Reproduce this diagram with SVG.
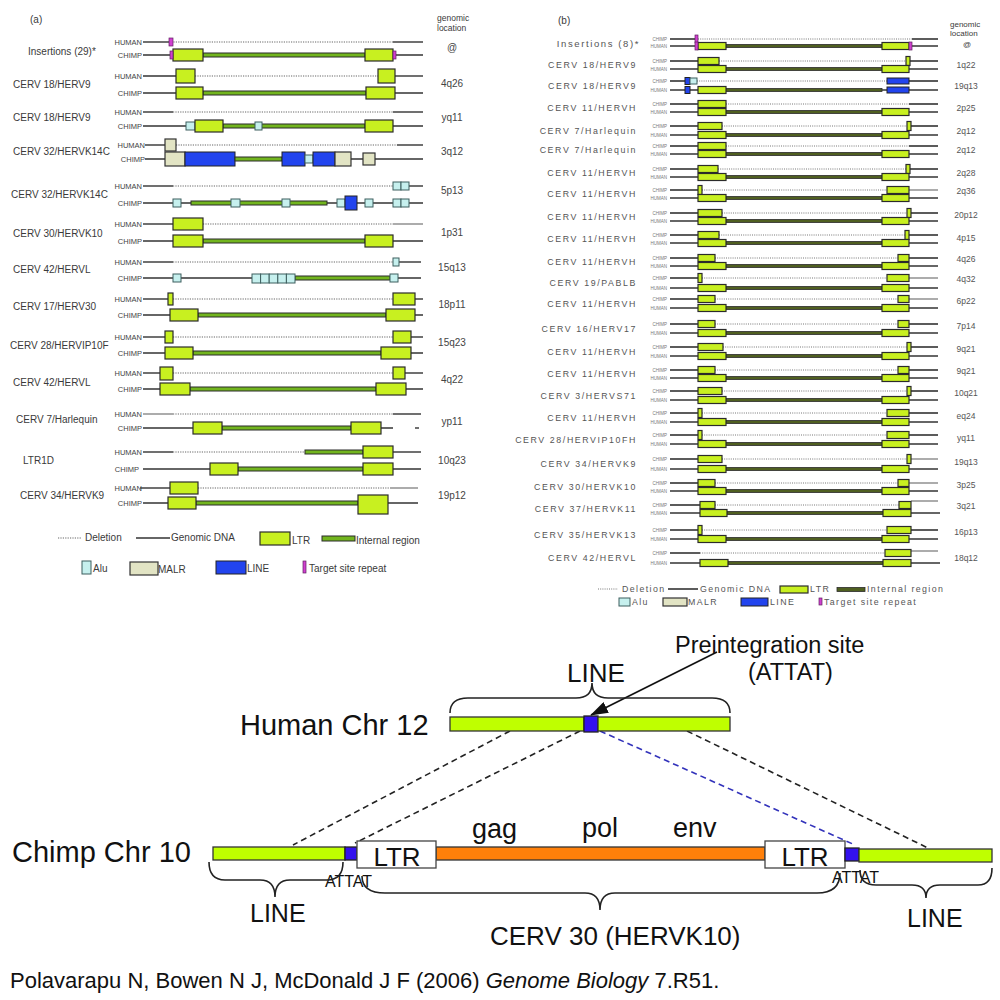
<svg xmlns="http://www.w3.org/2000/svg" xmlns:xlink="http://www.w3.org/1999/xlink" width="1000" height="1000" viewBox="0 0 1000 1000">
<style>
text{font-family:"Liberation Sans",Arial,sans-serif}
.s{stroke:#333;stroke-width:1.4}
.sg{stroke:#888;stroke-width:1.4}
.d{stroke:#666;stroke-width:1.2;stroke-dasharray:1.2 1.2}
.L{fill:#c8f020;stroke:#2b2b2b;stroke-width:1.2}
.I{fill:#72b51e;stroke:#2b2b2b;stroke-width:1}
.A{fill:#c6f0ee;stroke:#3d5e5e;stroke-width:1}
.M{fill:#e2e4c4;stroke:#333;stroke-width:1.2}
.N{fill:#2244ee;stroke:#222;stroke-width:1}
.T{fill:#d040d0;stroke:#602060;stroke-width:0.7}
.s2{stroke:#333;stroke-width:1.6}
.d2{stroke:#777;stroke-width:1;stroke-dasharray:1 1.2}
.Lb{fill:#c8f020;stroke:#2b2b2b;stroke-width:1.2}
.Ib{fill:#4f5f20;stroke:#2b2b2b;stroke-width:0.8}
.la{font-size:10px;fill:#3a3a3a}
.hc{font-size:7.5px;fill:#444;text-anchor:end}
.loc{font-size:10px;fill:#444;text-anchor:middle}
.lb{font-size:8.8px;fill:#555;letter-spacing:1.6px;text-anchor:end}
.lg{font-size:8.8px;fill:#555;letter-spacing:1.4px}
.tiny{font-size:4.5px;fill:#777;text-anchor:end}
.locb{font-size:8.5px;fill:#555;text-anchor:middle}
.bt{fill:#111}
.gb{fill:#bfff00;stroke:#333;stroke-width:1.3}
.bl{fill:#3311ee;stroke:#222;stroke-width:1.3}
.lt{fill:#fff;stroke:#444;stroke-width:1.3}
.or{fill:#ff800a;stroke:#333;stroke-width:1.3}
.dk{stroke:#222;stroke-width:1.6;stroke-dasharray:6 4;fill:none}
.db{stroke:#3333bb;stroke-width:1.6;stroke-dasharray:6 4;fill:none}
.br{fill:none;stroke:#222;stroke-width:1.6}
</style>
<defs>
<g id="hstd">
<line class="s2" x1="670" x2="938"/>
<rect class="Ib" x="726" y="-1.5" width="156" height="3"/>
<rect class="Lb" x="698" y="-3.5" width="28" height="7"/>
<rect class="Lb" x="882" y="-3.5" width="27" height="7"/>
</g>
<marker id="ah" markerUnits="userSpaceOnUse" markerWidth="18" markerHeight="12" refX="17" refY="6" orient="auto">
<path d="M0,0 L18,6 L0,12 Z" fill="#111"/>
</marker>
</defs>
<rect width="1000" height="1000" fill="#fff"/>

<!-- Panel (a) -->
<g id="panel-a">
<text class="la" x="30" y="23">(a)</text>
<text class="la" x="437" y="21" style="font-size:8.5px">genomic</text>
<text class="la" x="437" y="31" style="font-size:8.5px">location</text>

<g id="a01">
<text class="la" x="28" y="55">Insertions (29)*</text>
<text class="hc" x="142" y="45">HUMAN</text><text class="hc" x="142" y="58">CHIMP</text>
<line class="s" x1="143" y1="42" x2="171" y2="42"/><line class="d" x1="171" y1="42" x2="393" y2="42"/><line class="s" x1="393" y1="42" x2="423" y2="42"/>
<rect class="T" x="169" y="38" width="4" height="8"/>
<line class="s" x1="143" y1="55" x2="423" y2="55"/>
<rect class="I" x="203" y="53" width="162" height="4"/>
<rect class="L" x="173" y="49" width="30" height="12"/><rect class="L" x="365" y="49" width="28" height="12"/>
<rect class="T" x="170" y="51" width="3" height="8"/><rect class="T" x="393" y="51" width="3" height="8"/>
<text class="loc" x="452" y="51">@</text>
</g>

<g id="a02">
<text class="la" x="13" y="88">CERV 18/HERV9</text>
<text class="hc" x="142" y="79">HUMAN</text><text class="hc" x="142" y="96">CHIMP</text>
<line class="s" x1="143" y1="76" x2="176" y2="76"/><line class="d" x1="195" y1="76" x2="378" y2="76"/><line class="s" x1="395" y1="76" x2="423" y2="76"/>
<rect class="L" x="176" y="69" width="19" height="14"/><rect class="L" x="378" y="69" width="17" height="14"/>
<line class="s" x1="143" y1="93" x2="423" y2="93"/>
<rect class="I" x="203" y="91" width="163" height="4"/>
<rect class="L" x="176" y="87" width="27" height="12"/><rect class="L" x="366" y="87" width="29" height="12"/>
<text class="loc" x="452" y="87">4q26</text>
</g>

<g id="a03">
<text class="la" x="13" y="121">CERV 18/HERV9</text>
<text class="hc" x="142" y="115">HUMAN</text><text class="hc" x="142" y="129">CHIMP</text>
<line class="s" x1="143" y1="112" x2="173" y2="112"/><line class="d" x1="173" y1="112" x2="393" y2="112"/><line class="s" x1="393" y1="112" x2="423" y2="112"/>
<line class="s" x1="143" y1="126" x2="423" y2="126"/>
<rect class="I" x="223" y="124" width="142" height="4"/>
<rect class="A" x="186" y="122" width="9" height="8"/>
<rect class="L" x="195" y="120" width="28" height="12"/>
<rect class="A" x="255" y="122" width="7" height="8"/>
<rect class="L" x="365" y="120" width="28" height="12"/>
<text class="loc" x="452" y="121">yq11</text>
</g>

<g id="a04">
<text class="la" x="13" y="155">CERV 32/HERVK14C</text>
<text class="hc" x="145" y="148">HUMAN</text><text class="hc" x="145" y="162">CHIMP</text>
<line class="s" x1="145" y1="145" x2="165" y2="145"/><line class="d" x1="176" y1="145" x2="397" y2="145"/><line class="s" x1="397" y1="145" x2="423" y2="145"/>
<rect class="M" x="165" y="139" width="11" height="12"/>
<line class="s" x1="145" y1="159" x2="423" y2="159"/>
<rect class="M" x="165" y="152" width="20" height="14"/>
<rect class="N" x="185" y="152" width="50" height="14"/>
<rect class="I" x="235" y="157" width="47" height="4"/>
<rect class="N" x="282" y="152" width="23" height="14"/>
<rect class="A" x="305" y="155" width="8" height="8"/>
<rect class="N" x="313" y="152" width="22" height="14"/>
<rect class="M" x="335" y="152" width="16" height="14"/>
<rect class="M" x="363" y="153" width="12" height="12"/>
<text class="loc" x="452" y="155">3q12</text>
</g>

<g id="a05">
<text class="la" x="11" y="198">CERV 32/HERVK14C</text>
<text class="hc" x="142" y="189">HUMAN</text><text class="hc" x="142" y="206">CHIMP</text>
<line class="s" x1="143" y1="186" x2="173" y2="186"/><line class="d" x1="173" y1="186" x2="393" y2="186"/><line class="s" x1="409" y1="186" x2="423" y2="186"/>
<rect class="A" x="393" y="182" width="8" height="8"/><rect class="A" x="401" y="182" width="8" height="8"/>
<line class="s" x1="143" y1="203" x2="423" y2="203"/>
<rect class="A" x="173" y="199" width="8" height="8"/>
<rect class="I" x="191" y="201" width="136" height="4"/>
<rect class="A" x="231" y="199" width="9" height="8"/>
<rect class="A" x="282" y="199" width="8" height="8"/>
<rect class="A" x="337" y="199" width="8" height="8"/>
<rect class="N" x="345" y="196" width="12" height="14"/>
<rect class="A" x="365" y="199" width="8" height="8"/>
<rect class="A" x="393" y="199" width="8" height="8"/><rect class="A" x="401" y="199" width="8" height="8"/>
<text class="loc" x="452" y="194">5p13</text>
</g>

<g id="a06">
<text class="la" x="13" y="237">CERV 30/HERVK10</text>
<text class="hc" x="142" y="227">HUMAN</text><text class="hc" x="142" y="244">CHIMP</text>
<line class="s" x1="143" y1="224" x2="173" y2="224"/><line class="d" x1="203" y1="224" x2="393" y2="224"/><line class="sg" x1="393" y1="224" x2="423" y2="224"/>
<rect class="L" x="173" y="218" width="30" height="12"/>
<line class="s" x1="143" y1="241" x2="423" y2="241"/>
<rect class="I" x="203" y="239" width="162" height="4"/>
<rect class="L" x="173" y="235" width="30" height="12"/><rect class="L" x="365" y="235" width="28" height="12"/>
<text class="loc" x="452" y="236">1p31</text>
</g>

<g id="a07">
<text class="la" x="13" y="273">CERV 42/HERVL</text>
<text class="hc" x="142" y="265">HUMAN</text><text class="hc" x="142" y="281">CHIMP</text>
<line class="s" x1="143" y1="262" x2="173" y2="262"/><line class="d" x1="173" y1="262" x2="393" y2="262"/><line class="s" x1="399" y1="262" x2="421" y2="262"/>
<rect class="A" x="393" y="258" width="6" height="8"/>
<line class="s" x1="143" y1="278" x2="421" y2="278"/>
<rect class="A" x="173" y="274" width="8" height="8"/>
<rect class="I" x="295" y="276" width="95" height="4"/>
<rect class="A" x="252" y="274" width="8.6" height="9"/><rect class="A" x="260.6" y="274" width="8.6" height="9"/><rect class="A" x="269.2" y="274" width="8.6" height="9"/><rect class="A" x="277.8" y="274" width="8.6" height="9"/><rect class="A" x="286.4" y="274" width="8.6" height="9"/>
<rect class="A" x="390" y="274" width="8" height="8"/>
<text class="loc" x="452" y="271">15q13</text>
</g>

<g id="a08">
<text class="la" x="13" y="310">CERV 17/HERV30</text>
<text class="hc" x="142" y="302">HUMAN</text><text class="hc" x="142" y="318">CHIMP</text>
<line class="s" x1="143" y1="299" x2="168" y2="299"/><line class="d" x1="173" y1="299" x2="393" y2="299"/><line class="s" x1="415" y1="299" x2="423" y2="299"/>
<rect class="L" x="168" y="293" width="5" height="12"/><rect class="L" x="393" y="293" width="22" height="12"/>
<line class="s" x1="143" y1="315" x2="423" y2="315"/>
<rect class="I" x="198" y="313" width="188" height="4"/>
<rect class="L" x="170" y="309" width="28" height="12"/><rect class="L" x="386" y="309" width="29" height="12"/>
<text class="loc" x="452" y="308">18p11</text>
</g>

<g id="a09">
<text class="la" x="10" y="349">CERV 28/HERVIP10F</text>
<text class="hc" x="142" y="340">HUMAN</text><text class="hc" x="142" y="356">CHIMP</text>
<line class="s" x1="143" y1="337" x2="165" y2="337"/><line class="d" x1="173" y1="337" x2="393" y2="337"/><line class="s" x1="411" y1="337" x2="423" y2="337"/>
<rect class="L" x="165" y="331" width="8" height="12"/><rect class="L" x="393" y="331" width="18" height="12"/>
<line class="s" x1="143" y1="353" x2="423" y2="353"/>
<rect class="I" x="193" y="351" width="188" height="4"/>
<rect class="L" x="165" y="347" width="28" height="12"/><rect class="L" x="381" y="347" width="30" height="12"/>
<text class="loc" x="452" y="346">15q23</text>
</g>

<g id="a10">
<text class="la" x="13" y="386">CERV 42/HERVL</text>
<text class="hc" x="142" y="376">HUMAN</text><text class="hc" x="142" y="392">CHIMP</text>
<line class="s" x1="143" y1="373" x2="160" y2="373"/><line class="d" x1="173" y1="373" x2="393" y2="373"/><line class="s" x1="405" y1="373" x2="423" y2="373"/>
<rect class="L" x="160" y="367" width="13" height="13"/><rect class="L" x="393" y="367" width="12" height="12"/>
<line class="s" x1="143" y1="389" x2="423" y2="389"/>
<rect class="I" x="190" y="387" width="186" height="4"/>
<rect class="L" x="160" y="383" width="30" height="12"/><rect class="L" x="376" y="383" width="30" height="12"/>
<text class="loc" x="452" y="383">4q22</text>
</g>

<g id="a11">
<text class="la" x="16" y="423">CERV 7/Harlequin</text>
<text class="hc" x="142" y="417">HUMAN</text><text class="hc" x="142" y="431">CHIMP</text>
<line class="sg" x1="143" y1="414" x2="173" y2="414"/><line class="d" x1="173" y1="414" x2="393" y2="414"/><line class="s" x1="393" y1="414" x2="421" y2="414"/>
<line class="s" x1="143" y1="428" x2="393" y2="428"/><line class="s" x1="415" y1="428" x2="419" y2="428"/>
<rect class="I" x="222" y="426" width="129" height="4"/>
<rect class="L" x="193" y="422" width="29" height="12"/><rect class="L" x="351" y="422" width="30" height="12"/>
<text class="loc" x="452" y="425">yp11</text>
</g>

<g id="a12">
<text class="la" x="23" y="464">LTR1D</text>
<text class="hc" x="142" y="455">HUMAN</text><text class="hc" x="139" y="472">CHIMP</text>
<line class="s" x1="143" y1="452" x2="173" y2="452"/><line class="d" x1="173" y1="452" x2="305" y2="452"/><line class="s" x1="393" y1="452" x2="421" y2="452"/>
<rect class="I" x="305" y="450" width="58" height="4"/>
<rect class="L" x="363" y="446" width="30" height="12"/>
<line class="s" x1="143" y1="469" x2="421" y2="469"/>
<rect class="I" x="238" y="467" width="125" height="4"/>
<rect class="L" x="210" y="463" width="28" height="12"/><rect class="L" x="363" y="463" width="30" height="12"/>
<text class="loc" x="452" y="464">10q23</text>
</g>

<g id="a13">
<text class="la" x="20" y="499">CERV 34/HERVK9</text>
<text class="hc" x="142" y="491">HUMAN</text><text class="hc" x="142" y="506">CHIMP</text>
<line class="s" x1="140" y1="488" x2="170" y2="488"/><line class="d" x1="198" y1="488" x2="390" y2="488"/><line class="sg" x1="390" y1="488" x2="418" y2="488"/>
<rect class="L" x="170" y="482" width="28" height="12"/>
<line class="s" x1="143" y1="503" x2="418" y2="503"/>
<rect class="I" x="196" y="501" width="162" height="4"/>
<rect class="L" x="168" y="497" width="28" height="12"/><rect class="L" x="358" y="495" width="30" height="19"/>
<text class="loc" x="452" y="499">19p12</text>
</g>

<g id="a-legend">
<line class="d" x1="58" y1="538" x2="82" y2="538"/><text class="la" x="85" y="541">Deletion</text>
<line class="s" x1="136" y1="538" x2="170" y2="538"/><text class="la" x="171" y="541">Genomic DNA</text>
<rect class="L" x="260" y="532" width="30" height="13"/><text class="la" x="292" y="544">LTR</text>
<rect class="I" x="322" y="536" width="33" height="5"/><text class="la" x="356" y="544">Internal region</text>
<rect class="A" x="82" y="561" width="9" height="13"/><text class="la" x="93" y="572">Alu</text>
<rect class="M" x="130" y="562" width="28" height="13"/><text class="la" x="158" y="573">MALR</text>
<rect class="N" x="216" y="561" width="30" height="13"/><text class="la" x="247" y="572">LINE</text>
<rect class="T" x="303" y="561" width="3" height="12"/><text class="la" x="309" y="572">Target site repeat</text>
</g>
</g>

<!-- Panel (b) -->
<g id="panel-b">
<text class="la" x="558" y="24">(b)</text>
<text class="la" x="950" y="27" style="font-size:8px">genomic</text>
<text class="la" x="950" y="36" style="font-size:8px">location</text>
<text class="la" x="967" y="47" style="font-size:8px;text-anchor:middle">@</text>

<g id="b01" transform="translate(0,39)">
<text class="lb" x="640" y="8" style="font-size:9.5px">Insertions (8)*</text>
<text class="tiny" x="667" y="1.5">CHIMP</text><text class="tiny" x="667" y="8.5">HUMAN</text>
<line class="s2" x1="670" x2="695"/><line class="d2" x1="698" x2="912"/><line class="s2" x1="912" x2="938"/>
<rect class="T" x="695" y="-4" width="3" height="8"/>
<line class="s2" x1="670" x2="938" y1="7" y2="7"/>
<rect class="Ib" x="726" y="5.5" width="156" height="3"/>
<rect class="Lb" x="698" y="3.5" width="28" height="7"/><rect class="Lb" x="882" y="3.5" width="27" height="7"/>
<rect class="T" x="695" y="3" width="3" height="8"/><rect class="T" x="909" y="3" width="3" height="8"/>
</g>

<g id="b02" transform="translate(0,61)">
<text class="lb" x="637" y="7">CERV 18/HERV9</text>
<text class="tiny" x="667" y="1.5">CHIMP</text><text class="tiny" x="667" y="9.5">HUMAN</text>
<line class="s2" x1="670" x2="698"/><line class="d2" x1="719" x2="906"/><line class="s2" x1="910" x2="938"/>
<rect class="Lb" x="698" y="-3.5" width="21" height="7"/><rect class="Lb" x="906" y="-4.5" width="4" height="9"/>
<use xlink:href="#hstd" y="8"/>
<text class="locb" x="966" y="7">1q22</text>
</g>

<g id="b03" transform="translate(0,81)">
<text class="lb" x="637" y="7.5">CERV 18/HERV9</text>
<text class="tiny" x="667" y="1.5">CHIMP</text><text class="tiny" x="667" y="10.5">HUMAN</text>
<line class="s2" x1="670" x2="686"/><line class="d2" x1="697" x2="887"/><line class="s2" x1="909" x2="938"/>
<rect class="N" x="685" y="-3.5" width="5" height="7"/><rect class="A" x="690" y="-3" width="7" height="6"/>
<rect class="N" x="887" y="-3" width="22" height="6"/>
<line class="s2" x1="670" x2="938" y1="9" y2="9"/>
<rect class="Ib" x="726" y="7.5" width="156" height="3"/>
<rect class="N" x="685" y="5.5" width="5" height="7"/>
<rect class="Lb" x="698" y="5.5" width="28" height="7"/>
<rect class="N" x="887" y="6" width="22" height="6"/>
<text class="locb" x="966" y="8">19q13</text>
</g>

<g id="b04" transform="translate(0,104)">
<text class="lb" x="637" y="7">CERV 11/HERVH</text>
<text class="tiny" x="667" y="1.5">CHIMP</text><text class="tiny" x="667" y="9.5">HUMAN</text>
<line class="s2" x1="670" x2="698"/><line class="d2" x1="726" x2="909"/><line class="s2" x1="909" x2="938"/>
<rect class="Lb" x="698" y="-3.5" width="28" height="7"/>
<use xlink:href="#hstd" y="8"/>
<text class="locb" x="966" y="7">2p25</text>
</g>

<g id="b05" transform="translate(0,126)">
<text class="lb" x="637" y="7.5">CERV 7/Harlequin</text>
<text class="tiny" x="667" y="1.5">CHIMP</text><text class="tiny" x="667" y="10.5">HUMAN</text>
<line class="s2" x1="670" x2="698"/><line class="d2" x1="722" x2="907"/><line class="s2" x1="911" x2="938"/>
<rect class="Lb" x="698" y="-3.5" width="24" height="7"/><rect class="Lb" x="907" y="-4.5" width="4" height="9"/>
<use xlink:href="#hstd" y="9"/>
<text class="locb" x="966" y="8">2q12</text>
</g>

<g id="b06" transform="translate(0,146)">
<text class="lb" x="637" y="7">CERV 7/Harlequin</text>
<text class="tiny" x="667" y="1.5">CHIMP</text><text class="tiny" x="667" y="9.5">HUMAN</text>
<line class="s2" x1="670" x2="698"/><line class="d2" x1="726" x2="909"/><line class="s2" x1="909" x2="938"/>
<rect class="Lb" x="698" y="-3.5" width="28" height="7"/>
<use xlink:href="#hstd" y="8"/>
<text class="locb" x="966" y="7">2q12</text>
</g>

<g id="b07" transform="translate(0,169)">
<text class="lb" x="637" y="7">CERV 11/HERVH</text>
<text class="tiny" x="667" y="1.5">CHIMP</text><text class="tiny" x="667" y="9.5">HUMAN</text>
<line class="s2" x1="670" x2="698"/><line class="d2" x1="718" x2="906"/><line class="s2" x1="910" x2="938"/>
<rect class="Lb" x="698" y="-3.5" width="20" height="7"/><rect class="Lb" x="906" y="-4.5" width="4" height="9"/>
<use xlink:href="#hstd" y="8"/>
<text class="locb" x="966" y="7">2q28</text>
</g>

<g id="b08" transform="translate(0,190)">
<text class="lb" x="637" y="7">CERV 11/HERVH</text>
<text class="tiny" x="667" y="1.5">CHIMP</text><text class="tiny" x="667" y="9.5">HUMAN</text>
<line class="s2" x1="670" x2="698"/><line class="d2" x1="702" x2="887"/><line class="sg" x1="909" x2="938"/>
<rect class="Lb" x="698" y="-4.5" width="4" height="9"/><rect class="Lb" x="887" y="-3.5" width="22" height="7"/>
<use xlink:href="#hstd" y="8"/>
<text class="locb" x="966" y="4">2q36</text>
</g>

<g id="b09" transform="translate(0,213)">
<text class="lb" x="637" y="7">CERV 11/HERVH</text>
<text class="tiny" x="667" y="1.5">CHIMP</text><text class="tiny" x="667" y="9.5">HUMAN</text>
<line class="s2" x1="670" x2="698"/><line class="d2" x1="722" x2="907"/><line class="s2" x1="911" x2="938"/>
<rect class="Lb" x="698" y="-3.5" width="24" height="7"/><rect class="Lb" x="907" y="-4.5" width="4" height="9"/>
<use xlink:href="#hstd" y="8"/>
<text class="locb" x="966" y="5">20p12</text>
</g>

<g id="b10" transform="translate(0,235)">
<text class="lb" x="637" y="7">CERV 11/HERVH</text>
<text class="tiny" x="667" y="1.5">CHIMP</text><text class="tiny" x="667" y="9.5">HUMAN</text>
<line class="s2" x1="670" x2="698"/><line class="d2" x1="719" x2="905"/><line class="s2" x1="909" x2="938"/>
<rect class="Lb" x="698" y="-3.5" width="21" height="7"/><rect class="Lb" x="905" y="-4.5" width="4" height="9"/>
<use xlink:href="#hstd" y="8"/>
<text class="locb" x="966" y="6">4p15</text>
</g>

<g id="b11" transform="translate(0,258)">
<text class="lb" x="637" y="7">CERV 11/HERVH</text>
<text class="tiny" x="667" y="1.5">CHIMP</text><text class="tiny" x="667" y="9.5">HUMAN</text>
<line class="s2" x1="670" x2="698"/><line class="d2" x1="715" x2="898"/><line class="s2" x1="909" x2="938"/>
<rect class="Lb" x="698" y="-3.5" width="17" height="7"/><rect class="Lb" x="898" y="-3.5" width="11" height="7"/>
<use xlink:href="#hstd" y="8"/>
<text class="locb" x="966" y="4">4q26</text>
</g>

<g id="b12" transform="translate(0,278)">
<text class="lb" x="637" y="8">CERV 19/PABLB</text>
<text class="tiny" x="667" y="1.5">CHIMP</text><text class="tiny" x="667" y="11.5">HUMAN</text>
<line class="s2" x1="670" x2="698"/><line class="d2" x1="702" x2="887"/><line class="sg" x1="909" x2="938"/>
<rect class="Lb" x="698" y="-4.5" width="4" height="9"/><rect class="Lb" x="887" y="-3.5" width="22" height="7"/>
<use xlink:href="#hstd" y="10"/>
<text class="locb" x="966" y="4">4q32</text>
</g>

<g id="b13" transform="translate(0,299)">
<text class="lb" x="637" y="7.5">CERV 11/HERVH</text>
<text class="tiny" x="667" y="1.5">CHIMP</text><text class="tiny" x="667" y="10.5">HUMAN</text>
<line class="s2" x1="670" x2="698"/><line class="d2" x1="715" x2="898"/><line class="sg" x1="909" x2="938"/>
<rect class="Lb" x="698" y="-3.5" width="17" height="7"/><rect class="Lb" x="898" y="-3.5" width="11" height="7"/>
<use xlink:href="#hstd" y="9"/>
<text class="locb" x="966" y="5">6p22</text>
</g>

<g id="b14" transform="translate(0,324)">
<text class="lb" x="637" y="7.5">CERV 16/HERV17</text>
<text class="tiny" x="667" y="1.5">CHIMP</text><text class="tiny" x="667" y="10.5">HUMAN</text>
<line class="s2" x1="670" x2="698"/><line class="d2" x1="715" x2="898"/><line class="s2" x1="909" x2="938"/>
<rect class="Lb" x="698" y="-3.5" width="17" height="7"/><rect class="Lb" x="898" y="-3.5" width="11" height="7"/>
<use xlink:href="#hstd" y="9"/>
<text class="locb" x="966" y="5">7p14</text>
</g>

<g id="b15" transform="translate(0,347)">
<text class="lb" x="637" y="7.5">CERV 11/HERVH</text>
<text class="tiny" x="667" y="1.5">CHIMP</text><text class="tiny" x="667" y="10.5">HUMAN</text>
<line class="s2" x1="670" x2="698"/><line class="d2" x1="723" x2="907"/><line class="s2" x1="911" x2="938"/>
<rect class="Lb" x="698" y="-3.5" width="25" height="7"/><rect class="Lb" x="907" y="-4.5" width="4" height="9"/>
<use xlink:href="#hstd" y="9"/>
<text class="locb" x="966" y="5">9q21</text>
</g>

<g id="b16" transform="translate(0,370)">
<text class="lb" x="637" y="7">CERV 11/HERVH</text>
<text class="tiny" x="667" y="1.5">CHIMP</text><text class="tiny" x="667" y="9.5">HUMAN</text>
<line class="s2" x1="670" x2="698"/><line class="d2" x1="715" x2="898"/><line class="s2" x1="909" x2="938"/>
<rect class="Lb" x="698" y="-3.5" width="17" height="7"/><rect class="Lb" x="898" y="-3.5" width="11" height="7"/>
<use xlink:href="#hstd" y="8"/>
<text class="locb" x="966" y="4">9q21</text>
</g>

<g id="b17" transform="translate(0,391)">
<text class="lb" x="637" y="7.5">CERV 3/HERVS71</text>
<text class="tiny" x="667" y="1.5">CHIMP</text><text class="tiny" x="667" y="10.5">HUMAN</text>
<line class="s2" x1="670" x2="698"/><line class="d2" x1="722" x2="907"/><line class="s2" x1="911" x2="938"/>
<rect class="Lb" x="698" y="-3.5" width="24" height="7"/><rect class="Lb" x="907" y="-4.5" width="4" height="9"/>
<use xlink:href="#hstd" y="9"/>
<text class="locb" x="966" y="5">10q21</text>
</g>

<g id="b18" transform="translate(0,413)">
<text class="lb" x="637" y="7.5">CERV 11/HERVH</text>
<text class="tiny" x="667" y="1.5">CHIMP</text><text class="tiny" x="667" y="10.5">HUMAN</text>
<line class="s2" x1="670" x2="698"/><line class="d2" x1="702" x2="887"/><line class="s2" x1="909" x2="938"/>
<rect class="Lb" x="698" y="-4.5" width="4" height="9"/><rect class="Lb" x="887" y="-3.5" width="22" height="7"/>
<use xlink:href="#hstd" y="9"/>
<text class="locb" x="966" y="6">eq24</text>
</g>

<g id="b19" transform="translate(0,435)">
<text class="lb" x="637" y="7.5">CERV 28/HERVIP10FH</text>
<text class="tiny" x="667" y="1.5">CHIMP</text><text class="tiny" x="667" y="10.5">HUMAN</text>
<line class="s2" x1="670" x2="698"/><line class="d2" x1="702" x2="887"/><line class="s2" x1="909" x2="938"/>
<rect class="Lb" x="698" y="-4.5" width="4" height="9"/><rect class="Lb" x="887" y="-3.5" width="22" height="7"/>
<use xlink:href="#hstd" y="9"/>
<text class="locb" x="966" y="6">yq11</text>
</g>

<g id="b20" transform="translate(0,459)">
<text class="lb" x="637" y="8">CERV 34/HERVK9</text>
<text class="tiny" x="667" y="1.5">CHIMP</text><text class="tiny" x="667" y="11.5">HUMAN</text>
<line class="s2" x1="670" x2="698"/><line class="d2" x1="722" x2="908"/><line class="sg" x1="911" x2="938"/>
<rect class="Lb" x="698" y="-3.5" width="24" height="7"/><rect class="Lb" x="907" y="-4.5" width="4" height="9"/>
<use xlink:href="#hstd" y="10"/>
<text class="locb" x="966" y="6">19q13</text>
</g>

<g id="b21" transform="translate(0,483)">
<text class="lb" x="637" y="7">CERV 30/HERVK10</text>
<text class="tiny" x="667" y="1.5">CHIMP</text><text class="tiny" x="667" y="9.5">HUMAN</text>
<line class="s2" x1="670" x2="698"/><line class="d2" x1="715" x2="898"/><line class="sg" x1="909" x2="938"/>
<rect class="Lb" x="698" y="-3.5" width="17" height="7"/><rect class="Lb" x="898" y="-3.5" width="11" height="7"/>
<use xlink:href="#hstd" y="8"/>
<text class="locb" x="966" y="5">3p25</text>
</g>

<g id="b22" transform="translate(0,505)">
<text class="lb" x="637" y="7">CERV 37/HERVK11</text>
<text class="tiny" x="667" y="1.5">CHIMP</text><text class="tiny" x="667" y="9.5">HUMAN</text>
<line class="s2" x1="670" x2="700"/><line class="d2" x1="715" x2="899"/><line class="sg" x1="911" x2="938" y1="-4" y2="-4"/>
<rect class="Lb" x="700" y="-3.5" width="15" height="7"/><rect class="Lb" x="899" y="-3.5" width="12" height="7"/>
<line class="s2" x1="670" x2="940" y1="8" y2="8"/>
<rect class="Ib" x="727" y="6.5" width="156" height="3"/>
<rect class="Lb" x="700" y="4.5" width="27" height="7"/><rect class="Lb" x="883" y="4.5" width="28" height="7"/>
<text class="locb" x="966" y="4">3q21</text>
</g>

<g id="b23" transform="translate(0,530)">
<text class="lb" x="637" y="7.5">CERV 35/HERVK13</text>
<text class="tiny" x="667" y="1.5">CHIMP</text><text class="tiny" x="667" y="10.5">HUMAN</text>
<line class="s2" x1="670" x2="698"/><line class="d2" x1="702" x2="887"/><line class="s2" x1="911" x2="938"/>
<rect class="Lb" x="698" y="-4.5" width="4" height="9"/><rect class="Lb" x="887" y="-3.5" width="24" height="7"/>
<use xlink:href="#hstd" y="9"/>
<text class="locb" x="966" y="5">16p13</text>
</g>

<g id="b24" transform="translate(0,553)">
<text class="lb" x="637" y="8">CERV 42/HERVL</text>
<text class="tiny" x="667" y="1.5">CHIMP</text><text class="tiny" x="667" y="11.5">HUMAN</text>
<line class="s2" x1="670" x2="700"/><line class="d2" x1="700" x2="885"/><line class="sg" x1="911" x2="938" y1="-2" y2="-2"/>
<rect class="Lb" x="885" y="-3.5" width="26" height="7"/>
<line class="s2" x1="670" x2="940" y1="10" y2="10"/>
<rect class="Ib" x="728" y="8.5" width="155" height="3"/>
<rect class="Lb" x="700" y="6.5" width="28" height="7"/><rect class="Lb" x="883" y="6.5" width="28" height="7"/>
<text class="locb" x="966" y="8">18q12</text>
</g>

<g id="b-legend">
<line class="d2" x1="598" y1="589" x2="618" y2="589"/><text class="lg" x="622" y="592">Deletion</text>
<line class="s2" x1="668" y1="589" x2="698" y2="589"/><text class="lg" x="700" y="592">Genomic DNA</text>
<rect class="Lb" x="780" y="586" width="28" height="7"/><text class="lg" x="810" y="592">LTR</text>
<rect class="Ib" x="837" y="587.5" width="28" height="4"/><text class="lg" x="867" y="592">Internal region</text>
<rect class="A" x="619" y="598" width="11" height="8"/><text class="lg" x="632" y="605">Alu</text>
<rect class="M" x="663" y="598" width="24" height="8"/><text class="lg" x="688" y="605">MALR</text>
<rect class="N" x="741" y="598" width="27" height="8"/><text class="lg" x="770" y="605">LINE</text>
<rect class="T" x="819" y="598" width="3" height="7"/><text class="lg" x="824" y="605">Target site repeat</text>
</g>
</g>

<!-- Bottom diagram -->
<g id="connectors">
<line class="dk" x1="510" y1="731" x2="293" y2="845"/>
<line class="dk" x1="580" y1="731" x2="355" y2="843"/>
<line class="db" x1="600" y1="731" x2="855" y2="845"/>
<line class="dk" x1="687" y1="731" x2="928" y2="848"/>
<line x1="717" y1="652" x2="591" y2="715" stroke="#111" stroke-width="1.6" marker-end="url(#ah)"/>
</g>

<g id="human-chr12">
<text class="bt" x="240" y="735" font-size="29">Human Chr 12</text>
<rect class="gb" x="450" y="717" width="134" height="14"/>
<rect class="bl" x="584" y="716" width="14" height="16"/>
<rect class="gb" x="598" y="717" width="132" height="14"/>
<path class="br" d="M450,713 Q450,698 468,698 L576,698 Q592,698 592,683 Q592,698 608,698 L712,698 Q730,698 730,713"/>
<text class="bt" x="567" y="682" font-size="26">LINE</text>
<text class="bt" x="675" y="653" font-size="23.5">Preintegration site</text>
<text class="bt" x="748" y="680" font-size="23.5">(ATTAT)</text>
</g>

<g id="chimp-chr10">
<text class="bt" x="12" y="862" font-size="29">Chimp Chr 10</text>
<rect class="gb" x="213" y="847" width="132" height="13"/>
<rect class="bl" x="345" y="847" width="12" height="13"/>
<rect class="or" x="436" y="847" width="329" height="13"/>
<rect class="lt" x="357" y="841" width="79" height="27"/>
<rect class="lt" x="765" y="841" width="80" height="27"/>
<rect class="bl" x="845" y="848" width="14" height="13"/>
<rect class="gb" x="859" y="849" width="133" height="13"/>
<text class="bt" x="397" y="866" font-size="26" text-anchor="middle">LTR</text>
<text class="bt" x="805" y="866" font-size="26" text-anchor="middle">LTR</text>
<text class="bt" x="472" y="838" font-size="27">gag</text>
<text class="bt" x="582" y="837" font-size="27">pol</text>
<text class="bt" x="673" y="837" font-size="27">env</text>
<text class="bt" x="325" y="887" font-size="16">ATTAT</text>
<text class="bt" x="832" y="883" font-size="16">ATTAT</text>
<path class="br" d="M209,862 Q209,880 225,880 L260,880 Q275,880 275,897 Q275,880 290,880 L327,880 Q343,880 343,862"/>
<path class="br" d="M362,876 Q362,893 385,893 L585,893 Q600,893 600,910 Q600,893 615,893 L817,893 Q840,893 840,873"/>
<path class="br" d="M860,870 Q860,885 876,885 L912,885 Q926,885 926,898 Q926,885 940,885 L978,885 Q992,885 992,868"/>
<text class="bt" x="250" y="922" font-size="25">LINE</text>
<text class="bt" x="907" y="927" font-size="25">LINE</text>
<text class="bt" x="490" y="945" font-size="26">CERV 30 (HERVK10)</text>
</g>

<text class="bt" x="10" y="988" font-size="22">Polavarapu N, Bowen N J, McDonald J F (2006) <tspan font-style="italic">Genome Biology</tspan> 7.R51.</text>
</svg>
